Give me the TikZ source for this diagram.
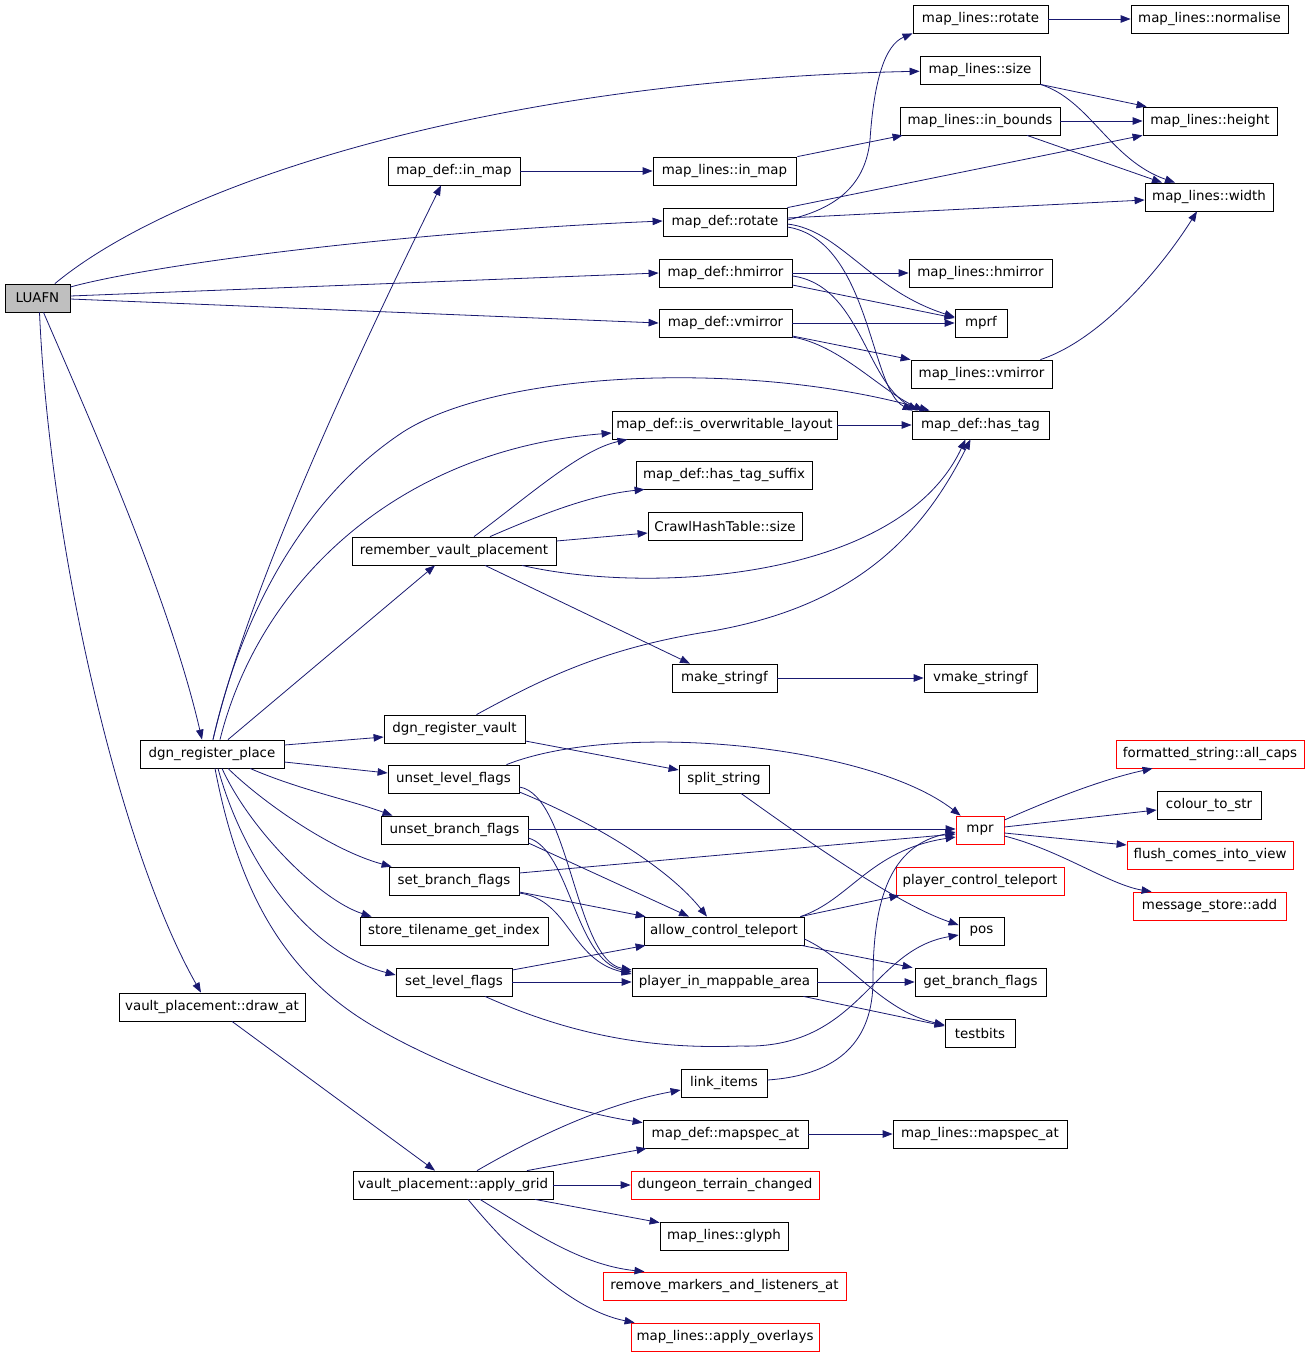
\documentclass[tikz,border=0pt]{standalone}
\usepackage{fontspec}
\setmainfont{DejaVu Sans}
\usetikzlibrary{arrows.meta}
\definecolor{edgec}{HTML}{191970}
\definecolor{luafill}{HTML}{BFBFBF}
\tikzset{
  nbox/.style={draw=black,line width=0.8pt,inner sep=0pt,text=black,fill=white},
  rbox/.style={nbox,draw=red},
  gbox/.style={nbox,fill=luafill},
  edg/.style={draw=edgec,line width=0.8pt,-{Triangle[length=10pt,width=7.5pt]}},
}
\newcommand\bx[7][nbox]{\node[#1,minimum width={(#5-#3)*1pt},minimum height={(#6-#4)*1pt}] (#2) at ({(#3+#5)/2},{(#4+#6)/2}) {#7};}
\begin{document}
\begin{tikzpicture}[x=1pt,y=-1pt,font=\fontsize{13.4}{15}\selectfont]
\useasboundingbox (0,0) rectangle (1309,1355);
% nodes
\bx[gbox]{LUAFN}{5}{284}{70}{312}{LUAFN}
\bx{mlrotate}{913}{5}{1048}{33}{map\_lines::rotate}
\bx{mlnorm}{1131}{5}{1288}{33}{map\_lines::normalise}
\bx{mlsize}{920}{56}{1040}{84}{map\_lines::size}
\bx{mlinb}{900}{107}{1060}{135}{map\_lines::in\_bounds}
\bx{mlheight}{1143}{107}{1277}{135}{map\_lines::height}
\bx{mlwidth}{1145}{183}{1273}{211}{map\_lines::width}
\bx{mdinmap}{388}{157}{520}{185}{map\_def::in\_map}
\bx{mlinmap}{653}{157}{796}{185}{map\_lines::in\_map}
\bx{mdrotate}{663}{208}{787}{236}{map\_def::rotate}
\bx{mdhmirror}{659}{259}{792}{287}{map\_def::hmirror}
\bx{mlhmirror}{909}{259}{1052}{287}{map\_lines::hmirror}
\bx{mprf}{955}{309}{1007}{337}{mprf}
\bx{mdvmirror}{659}{309}{792}{337}{map\_def::vmirror}
\bx{mlvmirror}{911}{360}{1052}{388}{map\_lines::vmirror}
\bx{mdisover}{612}{411}{837}{439}{map\_def::is\_overwritable\_layout}
\bx{mdhastag}{912}{411}{1049}{439}{map\_def::has\_tag}
\bx{mdsuffix}{636}{461}{812}{489}{map\_def::has\_tag\_suffix}
\bx{chsize}{648}{512}{802}{540}{CrawlHashTable::size}
\bx{rvp}{352}{537}{556}{565}{remember\_vault\_placement}
\bx{mkstr}{672}{664}{777}{692}{make\_stringf}
\bx{vmkstr}{924}{664}{1037}{692}{vmake\_stringf}
\bx{dgnvault}{384}{715}{525}{743}{dgn\_register\_vault}
\bx{dgnplace}{140}{740}{284}{768}{dgn\_register\_place}
\bx[rbox]{fsall}{1116}{740}{1304}{768}{formatted\_string::all\_caps}
\bx{unsetlev}{388}{765}{519}{793}{unset\_level\_flags}
\bx{split}{679}{765}{769}{793}{split\_string}
\bx{colour}{1157}{791}{1261}{819}{colour\_to\_str}
\bx{unsetbr}{381}{816}{528}{844}{unset\_branch\_flags}
\bx[rbox]{mpr}{956}{816}{1004}{844}{mpr}
\bx[rbox]{flush}{1127}{841}{1293}{869}{flush\_comes\_into\_view}
\bx{setbr}{389}{867}{519}{895}{set\_branch\_flags}
\bx[rbox]{pct}{896}{867}{1064}{895}{player\_control\_teleport}
\bx[rbox]{msadd}{1133}{892}{1286}{920}{message\_store::add}
\bx{store}{360}{917}{548}{945}{store\_tilename\_get\_index}
\bx{act}{644}{917}{804}{945}{allow\_control\_teleport}
\bx{pos}{959}{917}{1004}{945}{pos}
\bx{setlev}{396}{968}{512}{996}{set\_level\_flags}
\bx{pima}{632}{968}{817}{996}{player\_in\_mappable\_area}
\bx{gbf}{915}{968}{1046}{996}{get\_branch\_flags}
\bx{vpdraw}{119}{993}{305}{1021}{vault\_placement::draw\_at}
\bx{testbits}{945}{1019}{1015}{1047}{testbits}
\bx{link}{681}{1069}{767}{1097}{link\_items}
\bx{mdmapspec}{643}{1120}{808}{1148}{map\_def::mapspec\_at}
\bx{mlmapspec}{893}{1120}{1067}{1148}{map\_lines::mapspec\_at}
\bx{apply}{353}{1171}{553}{1199}{vault\_placement::apply\_grid}
\bx[rbox]{dtc}{631}{1171}{819}{1199}{dungeon\_terrain\_changed}
\bx{glyph}{660}{1222}{788}{1250}{map\_lines::glyph}
\bx[rbox]{rmla}{603}{1272}{846}{1300}{remove\_markers\_and\_listeners\_at}
\bx[rbox]{overlays}{631}{1323}{819}{1351}{map\_lines::apply\_overlays}
% LUAFN edges
\draw[edg] (LUAFN) .. controls (180,180) and (500,80) .. (mlsize);
\draw[edg] ([yshift=11pt]LUAFN.east) .. controls (150,265) and (400,232) .. ([yshift=1pt]mdrotate.west);
\draw[edg] ([yshift=2pt]LUAFN.east) -- (mdhmirror.west);
\draw[edg] ([yshift=-1pt]LUAFN.east) -- (mdvmirror.west);
\draw[edg] ([xshift=6pt]LUAFN.south) .. controls (90,420) and (170,600) .. ([xshift=-10pt]dgnplace.north);
\draw[edg] ([xshift=2pt]LUAFN.south) .. controls (50,550) and (120,850) .. ([xshift=-11pt]vpdraw.north);
% dgn_register_place edges
\draw[edg] ([xshift=1pt]dgnplace.north) .. controls (250,580) and (370,330) .. ([xshift=-13pt]mdinmap.south);
\draw[edg] ([xshift=1pt]dgnplace.north) .. controls (240,620) and (300,500) .. (403,432) .. controls (500,370) and (750,360) .. ([xshift=18pt]mdhastag.north west);
\draw[edg] ([xshift=8pt]dgnplace.north) .. controls (260,580) and (400,450) .. ([yshift=-8pt]mdisover.west);
\draw[edg] ([xshift=16pt]dgnplace.north) -- ([xshift=-19pt]rvp.south);
\draw[edg] ([yshift=9pt]dgnplace.east) -- ([yshift=-8pt]dgnvault.west);
\draw[edg] ([yshift=-8pt]dgnplace.east) -- ([yshift=6pt]unsetlev.west);
\draw[edg] ([xshift=38pt]dgnplace.south) .. controls (300,790) and (350,800) .. ([xshift=-62pt]unsetbr.north);
\draw[edg] ([xshift=16pt]dgnplace.south) .. controls (260,800) and (330,850) .. ([xshift=3pt]setbr.north west);
\draw[edg] ([xshift=10pt]dgnplace.south) .. controls (250,830) and (320,900) .. ([xshift=12pt]store.north west);
\draw[edg] ([xshift=6pt]dgnplace.south) .. controls (240,850) and (300,950) .. ([yshift=7pt]setlev.west);
\draw[edg] ([xshift=3pt]dgnplace.south) .. controls (240,900) and (290,980) .. (380,1030) .. controls (450,1070) and (560,1110) .. ([yshift=-3pt]mdmapspec.north west);
\draw[edg] ([xshift=20pt]vpdraw.south) -- ([xshift=-18pt]apply.north);
% remember_vault_placement edges
\draw[edg] ([xshift=20pt]rvp.north) .. controls (530,495) and (580,450) .. ([xshift=-97pt]mdisover.south);
\draw[edg] ([xshift=36pt]rvp.north) .. controls (540,515) and (590,495) .. ([xshift=9pt]mdsuffix.south west);
\draw[edg] ([yshift=10pt]rvp.east) -- ([yshift=-7pt]chsize.west);
\draw[edg] ([xshift=68pt]rvp.south) .. controls (650,595) and (900,580) .. ([xshift=-15pt]mdhastag.south);
\draw[edg] ([xshift=31pt]rvp.south) -- ([xshift=-34.5pt]mkstr.north);
\draw[edg] (mkstr) -- (vmkstr);
% dgn_register_vault edges
\draw[edg] ([xshift=22pt]dgnvault.north) .. controls (540,680) and (600,650) .. (700,633) .. controls (850,610) and (920,540) .. ([xshift=-10pt]mdhastag.south);
\draw[edg] ([yshift=-12pt]dgnvault.east) -- ([yshift=9pt]split.west);
% flags edges
\draw[edg] ([xshift=53pt]unsetlev.north) .. controls (620,720) and (870,745) .. ([xshift=5pt]mpr.north west);
\draw[edg] ([yshift=-13pt]unsetlev.east) .. controls (600,825) and (670,870) .. ([xshift=-17pt]act.north);
\draw[edg] ([yshift=-8pt]unsetlev.east) .. controls (570,795) and (575,960) .. ([yshift=12pt]pima.west);
\draw[edg] ([yshift=1pt]unsetbr.east) -- ([yshift=1pt]mpr.west);
\draw[edg] ([yshift=-13pt]unsetbr.east) -- ([xshift=-35pt]act.north);
\draw[edg] ([yshift=-8pt]unsetbr.east) .. controls (570,850) and (575,960) .. ([yshift=10pt]pima.west);
\draw[edg] ([yshift=8pt]setbr.east) -- ([yshift=-4pt]mpr.west);
\draw[edg] ([yshift=-11pt]setbr.east) -- ([xshift=2pt]act.north west);
\draw[edg] ([yshift=-12pt]setbr.east) .. controls (570,900) and (570,960) .. ([yshift=8pt]pima.west);
\draw[edg] ([yshift=12pt]setlev.east) -- ([xshift=2pt]act.south west);
\draw[edg] (setlev.east) -- (pima.west);
\draw[edg] ([xshift=31pt]setlev.south) .. controls (560,1030) and (640,1050) .. (740,1046) .. controls (860,1050) and (870,950) .. ([yshift=-4pt]pos.west);
% allow_control_teleport / player_in_mappable_area
\draw[edg] ([xshift=-4pt]act.north east) .. controls (850,900) and (870,850) .. ([yshift=-7pt]mpr.west);
\draw[edg] ([xshift=-4pt]act.north east) -- ([xshift=4pt]pct.south west);
\draw[edg] ([xshift=-3pt]act.south east) -- ([xshift=-2pt]gbf.north west);
\draw[edg] ([yshift=-8pt]act.east) .. controls (850,960) and (880,1010) .. ([yshift=8pt]testbits.west);
\draw[edg] (pima.east) -- (gbf.west);
\draw[edg] ([xshift=-14pt]pima.south east) -- ([yshift=7pt]testbits.west);
\draw[edg] ([xshift=17pt]split.south) .. controls (820,850) and (900,905) .. ([yshift=6pt]pos.west);
\draw[edg] ([yshift=3pt]link.east) .. controls (840,1075) and (873,1040) .. (873,980) .. controls (873,900) and (890,845) .. ([yshift=-2pt]mpr.west);
% apply_grid edges
\draw[edg] ([xshift=24pt]apply.north) .. controls (530,1140) and (600,1105) .. ([yshift=-7pt]link.west);
\draw[edg] ([xshift=74pt]apply.north) -- ([xshift=4pt]mdmapspec.south west);
\draw[edg] (apply.east) -- (dtc.west);
\draw[edg] ([xshift=82pt]apply.south) -- ([yshift=-1pt]glyph.north west);
\draw[edg] ([xshift=27pt]apply.south) .. controls (530,1230) and (580,1265) .. ([xshift=-80pt]rmla.north);
\draw[edg] ([xshift=15pt]apply.south) .. controls (510,1250) and (570,1310) .. ([xshift=4pt]overlays.north west);
\draw[edg] (mdmapspec) -- (mlmapspec);
% mpr edges
\draw[edg] ([yshift=10pt]mpr.east) .. controls (1050,800) and (1100,780) .. ([xshift=37pt]fsall.south west);
\draw[edg] ([yshift=3pt]mpr.east) -- ([yshift=-5pt]colour.west);
\draw[edg] ([yshift=-3pt]mpr.east) -- ([yshift=10pt]flush.west);
\draw[edg] ([yshift=-6pt]mpr.east) .. controls (1060,850) and (1110,885) .. ([xshift=19pt]msadd.north west);
% top area
\draw[edg] (mdinmap) -- (mlinmap);
\draw[edg] ([xshift=1pt]mlinmap.north east) -- ([xshift=3pt]mlinb.south west);
\draw[edg] ([yshift=2pt]mdrotate.east) .. controls (830,210) and (865,190) .. (870,140) .. controls (874,80) and (885,45) .. (mlrotate.south west);
\draw[edg] (mdrotate.north east) -- (mlheight.south west);
\draw[edg] ([yshift=4pt]mdrotate.east) -- ([yshift=-3pt]mlwidth.west);
\draw[edg] ([yshift=-2pt]mdrotate.east) .. controls (840,230) and (870,290) .. ([yshift=6pt]mprf.west);
\draw[edg] ([yshift=-5pt]mdrotate.east) .. controls (870,240) and (870,390) .. ([xshift=1pt]mdhastag.north west);
\draw[edg] (mdhmirror.east) -- (mlhmirror.west);
\draw[edg] ([yshift=-12pt]mdhmirror.east) -- ([yshift=5pt]mprf.west);
\draw[edg] ([yshift=-3pt]mdhmirror.east) .. controls (860,285) and (865,380) .. ([xshift=6pt]mdhastag.north west);
\draw[edg] (mdvmirror.east) -- (mprf.west);
\draw[edg] ([yshift=-13pt]mdvmirror.east) -- (mlvmirror.north west);
\draw[edg] ([yshift=-14pt]mdvmirror.east) .. controls (840,345) and (880,390) .. ([xshift=12pt]mdhastag.north west);
\draw[edg] (mdisover.east) -- (mdhastag.west);
\draw[edg] (mlrotate) -- (mlnorm);
\draw[edg] (mlsize.south east) -- ([xshift=4pt]mlheight.north west);
\draw[edg] (mlsize.south east) .. controls (1090,100) and (1110,160) .. ([xshift=-34pt]mlwidth.north);
\draw[edg] (mlinb) -- (mlheight);
\draw[edg] ([xshift=47pt]mlinb.south) -- ([xshift=-47pt]mlwidth.north);
\draw[edg] ([xshift=-12pt]mlvmirror.north east) .. controls (1100,340) and (1160,270) .. ([xshift=-12pt]mlwidth.south);
\end{tikzpicture}
\end{document}
